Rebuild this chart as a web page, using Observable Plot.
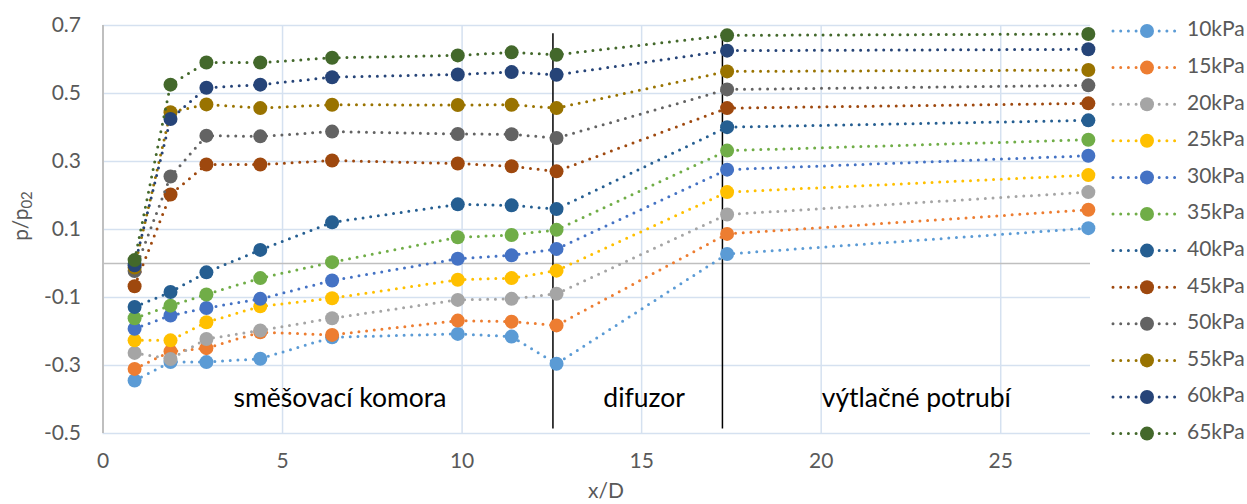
<!DOCTYPE html>
<html>
<head>
<meta charset="utf-8">
<script src="https://cdn.jsdelivr.net/npm/d3@7"></script>
<script src="https://cdn.jsdelivr.net/npm/@observablehq/plot@0.6"></script>
<style>
  html, body { margin: 0; padding: 0; background: #fff; }
  #chart { position: relative; width: 1247px; height: 504px; }
  #chart svg { position: absolute; left: 0; top: 0; }
</style>
</head>
<body>
<div id="chart"></div>
<script>
// Measuring stations along the ejector (x/D)
const xD = [0.88, 1.88, 2.88, 4.38, 6.38, 9.88, 11.38, 12.63, 17.38, 27.44];

// Pressure ratio p/p02 for each motive pressure
const p10 = [-0.344, -0.290, -0.290, -0.280, -0.217, -0.207, -0.215, -0.295, 0.028, 0.104];
const p15 = [-0.310, -0.259, -0.249, -0.202, -0.210, -0.168, -0.171, -0.182, 0.087, 0.158];
const p20 = [-0.263, -0.281, -0.222, -0.197, -0.161, -0.107, -0.104, -0.089, 0.144, 0.210];
const p25 = [-0.226, -0.226, -0.173, -0.126, -0.102, -0.048, -0.043, -0.021, 0.210, 0.260];
const p30 = [-0.192, -0.153, -0.131, -0.104, -0.050, 0.014, 0.024, 0.043, 0.276, 0.317];
const p35 = [-0.161, -0.124, -0.091, -0.043, 0.004, 0.077, 0.084, 0.099, 0.332, 0.364];
const p40 = [-0.128, -0.084, -0.026, 0.040, 0.121, 0.174, 0.171, 0.160, 0.401, 0.421];
const p45 = [-0.067, 0.203, 0.291, 0.291, 0.303, 0.294, 0.286, 0.271, 0.457, 0.471];
const p50 = [-0.022, 0.256, 0.376, 0.374, 0.388, 0.381, 0.380, 0.369, 0.512, 0.524];
const p55 = [-0.012, 0.445, 0.468, 0.457, 0.467, 0.466, 0.467, 0.457, 0.565, 0.569];
const p60 = [-0.005, 0.425, 0.517, 0.526, 0.548, 0.556, 0.563, 0.555, 0.626, 0.630];
const p65 = [0.010, 0.526, 0.591, 0.591, 0.605, 0.612, 0.621, 0.614, 0.671, 0.675];

const seriesNames = ["10kPa", "15kPa", "20kPa", "25kPa", "30kPa", "35kPa",
                     "40kPa", "45kPa", "50kPa", "55kPa", "60kPa", "65kPa"];
const seriesValues = [p10, p15, p20, p25, p30, p35, p40, p45, p50, p55, p60, p65];
const seriesColors = ["#5b9bd5", "#ed7d31", "#a5a5a5", "#ffc000", "#4472c4", "#70ad47",
                      "#255e91", "#9e480e", "#636363", "#997300", "#264478", "#43682b"];

// Axis ticks
const xTicks = [0, 5, 10, 15, 20, 25];
const yTicks = [-0.5, -0.3, -0.1, 0.1, 0.3, 0.5, 0.7];

// Section boundaries and section names
const dividerX = [12.53, 17.25];
const dividerTop = 0.676;
const dividerBottom = -0.487;
const sectionNames = ["směšovací komora", "difuzor", "výtlačné potrubí"];
const sectionX = [6.6, 15.07, 22.65];
const sectionY = -0.397;

// Long table for the marks
const rows = seriesNames.flatMap((name, i) =>
  seriesValues[i].map((v, j) => ({series: name, order: i, x: xD[j], y: v})));
const sections = sectionNames.map((name, i) => ({name, x: sectionX[i], y: sectionY}));

const font = "Lato, 'Open Sans', sans-serif";
const tickFmt = d => (Math.abs(d) < 1e-9 ? "0" : String(+d.toFixed(1)));

const dotted = {strokeWidth: 3, strokeDasharray: "0 7.7", strokeLinecap: "round"};

const marks = [
  // Gridlines
  Plot.ruleY(yTicks, {stroke: "#d5e1f0", strokeWidth: 1.5}),
  Plot.ruleX(xTicks.filter(d => d > 0), {stroke: "#d5e1f0", strokeWidth: 1.5}),
  // Value axis line and the horizontal axis crossing at zero
  Plot.ruleX([0], {stroke: "#bfbfbf", strokeWidth: 2}),
  Plot.ruleY([0], {stroke: "#bfbfbf", strokeWidth: 1.5}),
  Plot.axisX({ticks: xTicks, tickSize: 0, tickPadding: 20, tickFormat: d => String(d),
              fontSize: 21, fill: "#595959", label: null}),
  Plot.axisY({ticks: yTicks, tickSize: 0, tickPadding: 22, tickFormat: tickFmt,
              fontSize: 21, fill: "#595959", label: null}),
  // Section dividers
  Plot.ruleX(dividerX, {y1: dividerBottom, y2: dividerTop, stroke: "#000", strokeWidth: 1.5}),
  Plot.text(sections, {x: "x", y: "y", text: "name", fontSize: 26.5, fill: "#000",
                       fontFamily: font})
];

// Each series: dotted line then its markers, drawn in series order
seriesNames.forEach((name, i) => {
  const data = rows.filter(r => r.series === name);
  marks.push(Plot.line(data, {x: "x", y: "y", stroke: seriesColors[i], ...dotted}));
  marks.push(Plot.dot(data, {x: "x", y: "y", r: 7, fill: seriesColors[i], stroke: "none"}));
});

const plot = Plot.plot({
  width: 1247,
  height: 504,
  marginLeft: 102.5,
  marginRight: 157,
  marginTop: 25,
  marginBottom: 71,
  style: {fontFamily: font, background: "#fff", overflow: "visible"},
  x: {domain: [0, 27.5]},
  y: {domain: [-0.5, 0.7]},
  marks
});

const chart = document.getElementById("chart");
chart.appendChild(plot);

// Axis titles
const svg = d3.select(plot);
svg.append("text")
  .attr("x", 606).attr("y", 493)
  .attr("text-anchor", "middle").attr("dominant-baseline", "middle")
  .attr("font-family", font).attr("font-size", 21).attr("fill", "#595959")
  .text("x/D");
const yl = svg.append("text")
  .attr("transform", "translate(23,216) rotate(-90)")
  .attr("text-anchor", "middle").attr("dominant-baseline", "middle")
  .attr("font-family", font).attr("font-size", 21).attr("fill", "#595959");
yl.append("tspan").text("p/p");
yl.append("tspan").attr("font-size", 15).attr("dy", 5).text("02");

// Legend on the right
const legend = d3.select(chart).append("svg")
  .attr("width", 1247).attr("height", 504)
  .style("pointer-events", "none");
seriesNames.forEach((name, i) => {
  const cy = 31 + i * 36.6;
  const g = legend.append("g");
  g.append("line")
    .attr("x1", 1113).attr("x2", 1179).attr("y1", cy).attr("y2", cy)
    .attr("stroke", seriesColors[i]).attr("stroke-width", 3)
    .attr("stroke-dasharray", "0 7.7").attr("stroke-linecap", "round");
  g.append("circle").attr("cx", 1147).attr("cy", cy).attr("r", 7).attr("fill", seriesColors[i]);
  g.append("text")
    .attr("x", 1187).attr("y", cy).attr("dominant-baseline", "middle")
    .attr("font-family", font).attr("font-size", 21).attr("fill", "#595959")
    .text(name);
});
</script>
</body>
</html>
